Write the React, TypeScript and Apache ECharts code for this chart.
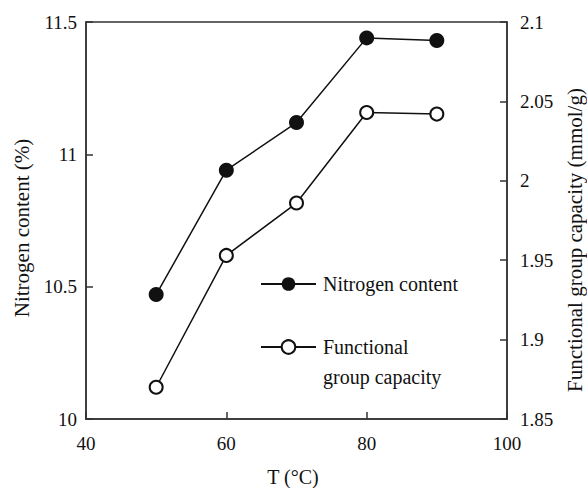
import React, { useEffect, useRef } from "react";
import * as echarts from "echarts";

const temperatures = [50, 60, 70, 80, 90];
const nitrogenContent = [10.47, 10.94, 11.12, 11.44, 11.43];
const functionalCapacity = [1.87, 1.953, 1.986, 2.043, 2.042];

const seriesNames = ["Nitrogen content", "Functional group capacity"];
const xName = "T (°C)";
const yLeftName = "Nitrogen content (%)";
const yRightName = "Functional group capacity (mmol/g)";

const FONT = "'Liberation Serif', 'Times New Roman', serif";
const INK = "#111";
const AXIS = "#333";

export default function App() {
  const ref = useRef<HTMLDivElement>(null);
  useEffect(() => {
    if (!ref.current) return;
    const chart = echarts.init(ref.current, null, { renderer: "svg" });
    const tickLabel = { fontFamily: FONT, fontSize: 19, color: INK };
    const fmt = (v: number) => String(parseFloat(v.toFixed(3)));
    chart.setOption({
      animation: false,
      backgroundColor: "#fff",
      grid: {
        left: 86,
        right: 80,
        top: 22,
        bottom: 69,
        show: true,
        borderColor: AXIS,
        borderWidth: 1.5,
      },
      xAxis: {
        type: "value",
        min: 40,
        max: 100,
        interval: 20,
        axisLine: { lineStyle: { color: AXIS, width: 1.5 } },
        axisTick: { inside: true, length: 7, lineStyle: { color: AXIS, width: 1.5 } },
        axisLabel: { ...tickLabel, margin: 15 },
        splitLine: { show: false },
      },
      yAxis: [
        {
          type: "value",
          min: 10,
          max: 11.5,
          interval: 0.5,
          axisLine: { show: true, lineStyle: { color: AXIS, width: 1.5 } },
          axisTick: { show: true, inside: true, length: 7, lineStyle: { color: AXIS, width: 1.5 } },
          axisLabel: { ...tickLabel, margin: 9, formatter: fmt },
          splitLine: { show: false },
        },
        {
          type: "value",
          min: 1.85,
          max: 2.1,
          interval: 0.05,
          position: "right",
          axisLine: { show: true, lineStyle: { color: AXIS, width: 1.5 } },
          axisTick: { show: true, inside: true, length: 7, lineStyle: { color: AXIS, width: 1.5 } },
          axisLabel: { ...tickLabel, margin: 13, formatter: fmt },
          splitLine: { show: false },
        },
      ],
      legend: [
        {
          data: [seriesNames[0]],
          left: 260,
          top: 274,
          padding: 0,
          itemWidth: 55,
          itemHeight: 17,
          itemGap: 0,
          textStyle: { fontFamily: FONT, fontSize: 20, color: INK, padding: [0, 0, 0, 2] },
        },
        {
          data: [seriesNames[1]],
          left: 260,
          top: 302,
          padding: 0,
          itemWidth: 55,
          itemHeight: 17,
          itemGap: 0,
          formatter: () => "\nFunctional\ngroup capacity",
          textStyle: { fontFamily: FONT, fontSize: 20, lineHeight: 30, color: INK, padding: [0, 0, 0, 2] },
        },
      ],
      graphic: [
        {
          type: "text",
          x: 22,
          y: 228,
          rotation: Math.PI / 2,
          style: {
            text: yLeftName,
            fontFamily: FONT,
            fontSize: 21,
            fill: INK,
            align: "center",
            verticalAlign: "middle",
          },
        },
        {
          type: "text",
          x: 575,
          y: 240,
          rotation: Math.PI / 2,
          style: {
            text: yRightName,
            fontFamily: FONT,
            fontSize: 21,
            fill: INK,
            align: "center",
            verticalAlign: "middle",
          },
        },
        {
          type: "text",
          x: 293,
          y: 477,
          style: {
            text: xName,
            fontFamily: FONT,
            fontSize: 20,
            fill: INK,
            align: "center",
            verticalAlign: "middle",
          },
        },
      ],
      series: [
        {
          name: seriesNames[0],
          type: "line",
          yAxisIndex: 0,
          data: temperatures.map((t, i) => [t, nitrogenContent[i]]),
          symbol: "circle",
          symbolSize: 15,
          lineStyle: { color: INK, width: 1.5 },
          itemStyle: { color: INK },
        },
        {
          name: seriesNames[1],
          type: "line",
          yAxisIndex: 1,
          data: temperatures.map((t, i) => [t, functionalCapacity[i]]),
          symbol: "emptyCircle",
          symbolSize: 13,
          lineStyle: { color: INK, width: 1.5 },
          itemStyle: { color: INK, borderWidth: 1.6 },
        },
      ],
    });
    return () => chart.dispose();
  }, []);
  return (
    <div
      ref={ref}
      style={{ position: "fixed", left: 0, top: 0, width: 587, height: 488, background: "#fff" }}
    />
  );
}
